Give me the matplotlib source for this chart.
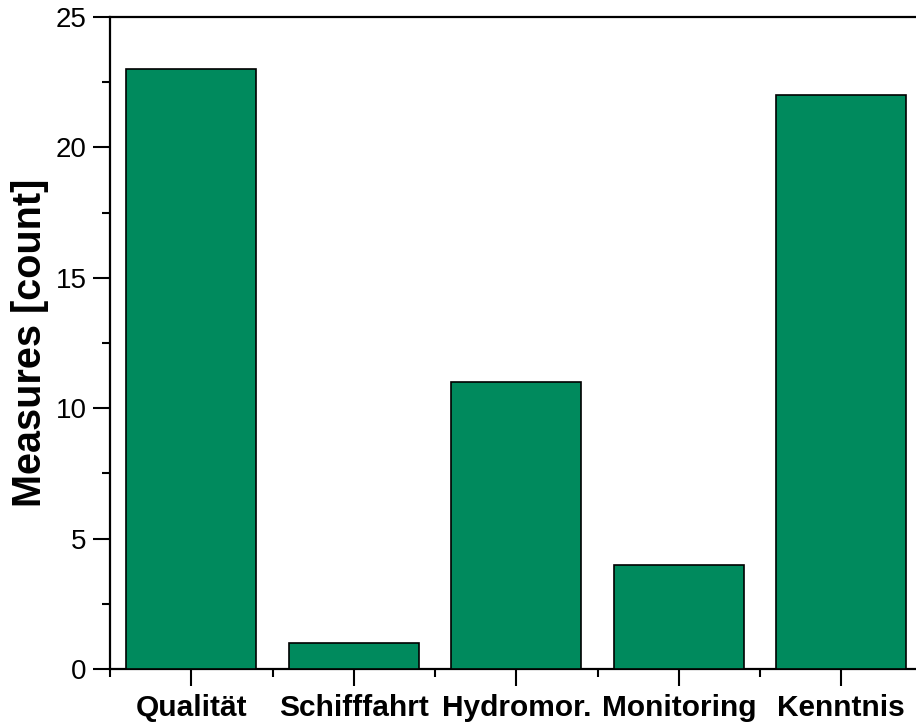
import matplotlib
matplotlib.use("Agg")
import matplotlib.pyplot as plt
from matplotlib.ticker import MultipleLocator, FixedLocator

plt.rcParams["font.family"] = ["Liberation Sans", "DejaVu Sans"]

categories = ["Qualität", "Schifffahrt", "Hydromor.", "Monitoring", "Kenntnis"]
counts = [23, 1, 11, 4, 22]

BAR_COLOR = "#008A5D"

fig = plt.figure(figsize=(9.16, 7.23), dpi=100)
ax = fig.add_axes([110 / 916, 54 / 723, 812.5 / 916, 652 / 723])

pos = list(range(1, len(categories) + 1))
ax.bar(pos, counts, width=0.8, color=BAR_COLOR, edgecolor="black",
       linewidth=1.2, zorder=3)

ax.set_xlim(0.5, len(categories) + 0.5)
ax.set_ylim(0, 25)

ax.set_xticks(pos)
ax.set_xticklabels(categories, fontsize=21.5, fontweight="bold")
ax.xaxis.set_minor_locator(FixedLocator([p - 0.5 for p in pos]))

ax.yaxis.set_major_locator(MultipleLocator(5))
ax.yaxis.set_minor_locator(MultipleLocator(2.5))
ax.tick_params(axis="y", labelsize=20)

ax.tick_params(which="major", direction="out", length=12, width=1.5)
ax.tick_params(which="minor", direction="out", length=6, width=1.5)
ax.tick_params(axis="x", which="major", pad=6)
ax.tick_params(axis="y", which="major", pad=5)

for side in ["left", "bottom", "top", "right"]:
    ax.spines[side].set_linewidth(1.6)

ax.set_ylabel("Measures [count]", fontsize=28.5, fontweight="bold")
ax.yaxis.set_label_coords(-0.075, 0.5)

fig.savefig("out.png", dpi=100, facecolor="white")
